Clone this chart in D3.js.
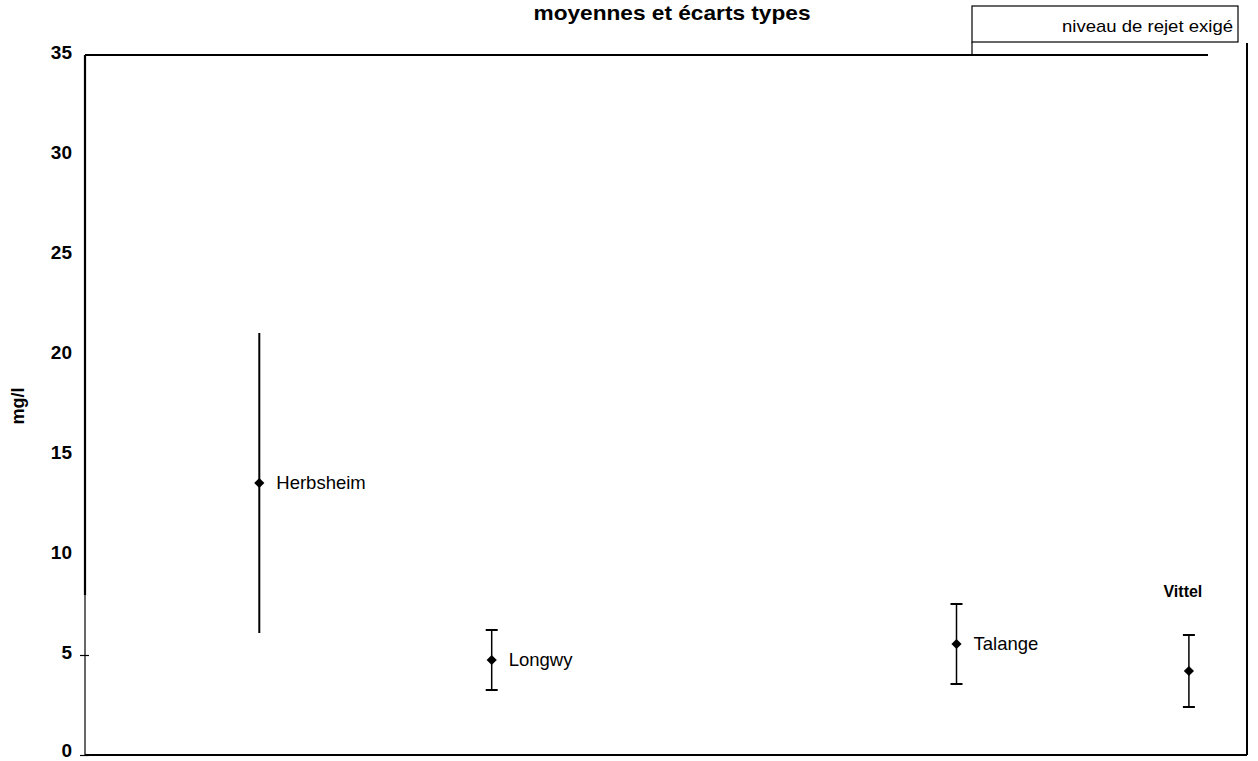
<!DOCTYPE html>
<html>
<head>
  <meta charset="UTF-8">
  <style>
    body { margin: 0; background: #fff; }
    svg { display: block; font-family: "Liberation Sans", Arial, sans-serif; }
  </style>
</head>
<body>
<svg></svg>
<script src="https://cdn.jsdelivr.net/npm/d3@7"></script>
<script>
let width = 1258,
    height = 761;

// stations, their position along the x axis, means and standard deviations (mg/l)
let sites = ["Herbsheim", "Longwy", "Talange", "Vittel"];
let sitePos = [1, 2, 4, 5];
let means = [13.6, 4.75, 5.55, 4.2];
let stdDevs = [7.5, 1.5, 2.0, 1.8];
let yTicks = [0, 5, 10, 15, 20, 25, 30, 35];

let data = sites.map((s, i) => ({ name: s, pos: sitePos[i], mean: means[i], sd: stdDevs[i] }));

let svg = d3.select("svg")
    .attr("width", width)
    .attr("height", height);

let plotLeft = 85, plotRight = 1247, plotTop = 55, plotBottom = 755;

let x = d3.scaleLinear().domain([0.25, 5.25]).range([plotLeft, plotRight]);
let y = d3.scaleLinear().domain([0, 35]).range([plotBottom, plotTop]);

// title
svg.append("text")
    .attr("x", 672)
    .attr("y", 20)
    .attr("text-anchor", "middle")
    .style("font-size", "21px")
    .style("font-weight", "bold")
    .attr("textLength", 277)
    .attr("lengthAdjust", "spacingAndGlyphs")
    .text("moyennes et écarts types");

// legend box
svg.append("rect")
    .attr("x", 972).attr("y", 6)
    .attr("width", 266).attr("height", 36)
    .attr("fill", "none").attr("stroke", "black").attr("stroke-width", 1.2);
svg.append("line")
    .attr("x1", 972).attr("x2", 972).attr("y1", 42).attr("y2", 54)
    .attr("stroke", "black").attr("stroke-width", 1.2);
svg.append("text")
    .attr("x", 1233).attr("y", 32)
    .attr("text-anchor", "end")
    .style("font-size", "17px")
    .attr("textLength", 171)
    .attr("lengthAdjust", "spacingAndGlyphs")
    .text("niveau de rejet exigé");

// frame lines
svg.append("line")
    .attr("x1", plotLeft).attr("x2", 1208).attr("y1", plotTop).attr("y2", plotTop)
    .attr("stroke", "black").attr("stroke-width", 2);
svg.append("line")
    .attr("x1", plotRight).attr("x2", plotRight).attr("y1", 43).attr("y2", plotBottom)
    .attr("stroke", "black").attr("stroke-width", 2);
svg.append("line")
    .attr("x1", plotLeft).attr("x2", plotRight).attr("y1", plotBottom).attr("y2", plotBottom)
    .attr("stroke", "black").attr("stroke-width", 2);

// y axis
let yAxis = svg.append("g")
    .attr("transform", "translate(" + plotLeft + ",0)")
    .call(d3.axisLeft(y).tickValues(yTicks).tickSize(5).tickPadding(8));
yAxis.select(".domain").remove();
yAxis.selectAll(".tick line")
    .attr("stroke-width", 1.2)
    .attr("x2", 4).attr("x1", -5)
    .attr("opacity", d => d <= 5 ? 1 : 0);
yAxis.selectAll(".tick text")
    .style("font-size", "19px")
    .style("font-weight", "bold")
    .style("font-family", "\"Liberation Sans\", Arial, sans-serif")
    .attr("dy", d => d == 0 ? "0.1em" : "0.2em");

svg.append("line")
    .attr("x1", plotLeft).attr("x2", plotLeft).attr("y1", plotTop).attr("y2", y(8))
    .attr("stroke", "black").attr("stroke-width", 2.2);
svg.append("line")
    .attr("x1", plotLeft).attr("x2", plotLeft).attr("y1", y(8)).attr("y2", plotBottom)
    .attr("stroke", "black").attr("stroke-width", 1.2);

svg.append("text")
    .attr("transform", "translate(24,406) rotate(-90)")
    .attr("text-anchor", "middle")
    .style("font-size", "18px")
    .style("font-weight", "bold")
    .text("mg/l");

// error bars
let g = svg.append("g").selectAll("g")
    .data(data)
    .enter()
    .append("g");

g.append("line")
    .attr("x1", d => x(d.pos)).attr("x2", d => x(d.pos))
    .attr("y1", d => y(d.mean + d.sd)).attr("y2", d => y(d.mean - d.sd))
    .attr("stroke", "black").attr("stroke-width", d => d.name == "Herbsheim" ? 2 : 1.5);

g.filter(d => d.name != "Herbsheim").selectAll(".cap")
    .data(d => [{ p: d.pos, v: d.mean + d.sd }, { p: d.pos, v: d.mean - d.sd }])
    .enter()
    .append("line")
    .attr("class", "cap")
    .attr("x1", d => x(d.p) - 6).attr("x2", d => x(d.p) + 6)
    .attr("y1", d => y(d.v)).attr("y2", d => y(d.v))
    .attr("stroke", "black").attr("stroke-width", 2);

g.append("path")
    .attr("d", d3.symbol().type(d3.symbolSquare).size(52))
    .attr("transform", d => "translate(" + x(d.pos) + "," + y(d.mean) + ") rotate(45)")
    .attr("fill", "black");

g.append("text")
    .attr("x", d => d.name == "Vittel" ? x(d.pos) - 6 : x(d.pos) + 17)
    .attr("y", d => d.name == "Vittel" ? 597 : y(d.mean) + 6)
    .attr("text-anchor", d => d.name == "Vittel" ? "middle" : "start")
    .style("font-size", d => d.name == "Vittel" ? "16px" : "18.5px")
    .style("font-weight", d => d.name == "Vittel" ? "bold" : "normal")
    .text(d => d.name);
</script>
</body>
</html>
